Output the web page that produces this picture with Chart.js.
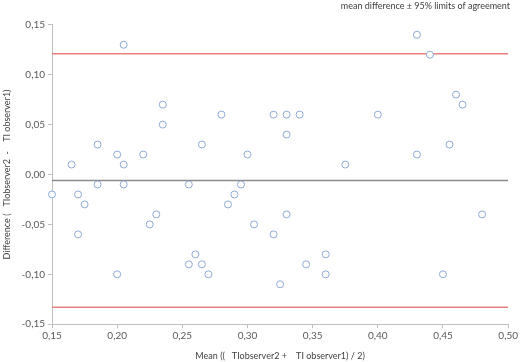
<!DOCTYPE html>
<html>
<head>
<meta charset="utf-8">
<script src="https://cdn.jsdelivr.net/npm/chart.js@4"></script>
<style>
  html, body { margin: 0; padding: 0; background: #fff; }
  #wrap { width: 520px; height: 362px; }
</style>
</head>
<body>
<div id="wrap"><canvas id="grafica"></canvas></div>
<script>
// mean of the two observers (x) and their difference (y)
const meanTI = [
  0.15, 0.165, 0.17, 0.17, 0.175, 0.185, 0.185, 0.20, 0.20, 0.205,
  0.205, 0.205, 0.22, 0.225, 0.23, 0.235, 0.235, 0.255, 0.255, 0.26,
  0.265, 0.265, 0.27, 0.28, 0.285, 0.29, 0.295, 0.30, 0.305, 0.32,
  0.32, 0.325, 0.33, 0.33, 0.33, 0.34, 0.345, 0.36, 0.36, 0.375,
  0.40, 0.43, 0.43, 0.44, 0.45, 0.455, 0.46, 0.465, 0.48
];
const diffTI = [
  -0.02, 0.01, -0.02, -0.06, -0.03, 0.03, -0.01, 0.02, -0.10, 0.13,
  0.01, -0.01, 0.02, -0.05, -0.04, 0.07, 0.05, -0.01, -0.09, -0.08,
  0.03, -0.09, -0.10, 0.06, -0.03, -0.02, -0.01, 0.02, -0.05, 0.06,
  -0.06, -0.11, 0.06, 0.04, -0.04, 0.06, -0.09, -0.08, -0.10, 0.01,
  0.06, 0.14, 0.02, 0.12, -0.10, 0.03, 0.08, 0.07, -0.04
];

// mean difference and 95% limits of agreement
const meanDiff = -0.006;
const upperLoA = 0.121;
const lowerLoA = -0.133;

const xTicks = [0.15, 0.20, 0.25, 0.30, 0.35, 0.40, 0.45, 0.50];
const yTicks = [-0.15, -0.10, -0.05, 0.00, 0.05, 0.10, 0.15];

const xMin = xTicks[0];
const xMax = xTicks[xTicks.length - 1];

const puntos = meanTI.map((x, i) => ({ x: x, y: diffTI[i] }));
const linea = v => [{ x: xMin, y: v }, { x: xMax, y: v }];

const fmt = v => v.toFixed(2).replace('.', ',');
const fuente = { family: 'Lato, "Open Sans", sans-serif', size: 10 };
const gris = '#595959';
const ejeColor = '#bfbfbf';

Chart.defaults.color = gris;
Chart.defaults.font = fuente;

const ctx = document.getElementById('grafica').getContext('2d');
new Chart(ctx, {
  type: 'scatter',
  data: {
    datasets: [
      {
        label: 'upper',
        type: 'line',
        data: linea(upperLoA),
        borderColor: '#e98080',
        borderWidth: 1.5,
        pointRadius: 0,
        order: 2
      },
      {
        label: 'mean',
        type: 'line',
        data: linea(meanDiff),
        borderColor: '#8c8c8c',
        borderWidth: 1.5,
        pointRadius: 0,
        order: 2
      },
      {
        label: 'lower',
        type: 'line',
        data: linea(lowerLoA),
        borderColor: '#e98080',
        borderWidth: 1.5,
        pointRadius: 0,
        order: 2
      },
      {
        label: 'TI',
        data: puntos,
        clip: false,
        pointStyle: 'circle',
        pointRadius: 3.5,
        pointBorderWidth: 1,
        borderColor: '#8ea9d6',
        backgroundColor: '#ffffff',
        order: 1
      }
    ]
  },
  options: {
    responsive: true,
    maintainAspectRatio: false,
    animation: false,
    layout: { padding: { top: 1, right: 10, left: 2, bottom: 1 } },
    plugins: {
      legend: { display: false },
      tooltip: { enabled: false },
      title: {
        display: true,
        text: 'mean difference \u00b1 95% limits of agreement',
        align: 'end',
        color: '#404040',
        font: { family: fuente.family, size: 9, weight: 'normal' },
        padding: { top: 0, bottom: 13 }
      }
    },
    scales: {
      x: {
        type: 'linear',
        min: xMin,
        max: xMax,
        afterBuildTicks: s => { s.ticks = xTicks.map(v => ({ value: v })); },
        ticks: { callback: v => fmt(v), maxRotation: 0, padding: 2, font: { size: 10 } },
        grid: { drawOnChartArea: false, drawTicks: true, tickLength: 4, color: ejeColor },
        border: { color: ejeColor, width: 1 },
        title: {
          display: true,
          text: 'Mean ((   TIobserver2 +    TI observer1) / 2)',
          color: '#404040',
          font: { size: 9 },
          padding: { top: 6, bottom: 0 }
        }
      },
      y: {
        type: 'linear',
        min: yTicks[0],
        max: yTicks[yTicks.length - 1],
        afterBuildTicks: s => { s.ticks = yTicks.map(v => ({ value: v })); },
        afterFit: s => { s.width = 50; },
        ticks: { callback: v => fmt(v), padding: 3, font: { size: 10 } },
        grid: { drawOnChartArea: false, drawTicks: true, tickLength: 4, color: ejeColor },
        border: { color: ejeColor, width: 1 },
        title: {
          display: true,
          text: 'Difference (   TIobserver2  -    TI observer1)',
          color: '#404040',
          font: { size: 9 },
          padding: { top: 0, bottom: 2 }
        }
      }
    }
  }
});
</script>
</body>
</html>
